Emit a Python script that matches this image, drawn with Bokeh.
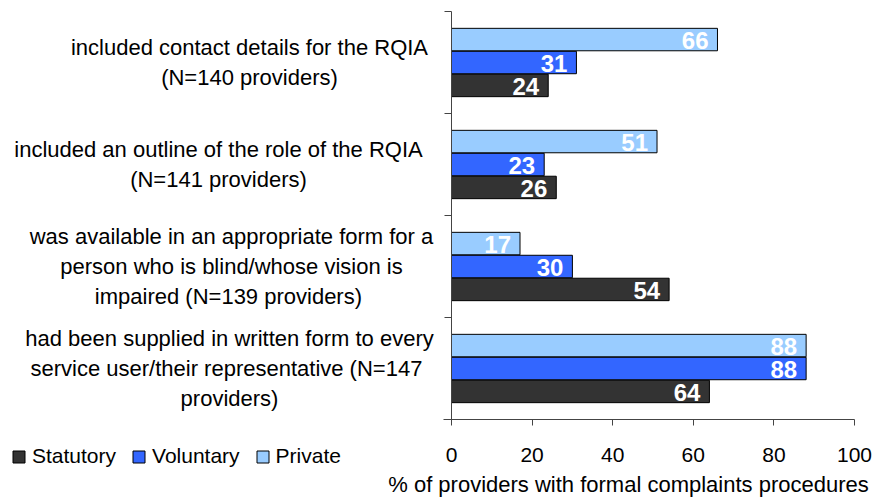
from bokeh.plotting import figure
from bokeh.models import (Range1d, LinearAxis, FixedTicker, ColumnDataSource,
                          Legend, LegendItem, Label)
from bokeh.core.properties import value
from bokeh.embed import file_html
from bokeh.resources import INLINE

# ---------------- data ----------------
categories = [
    "included contact details for the RQIA\n(N=140 providers)",
    "included an outline of the role of the RQIA\n(N=141 providers)",
    "was available in an appropriate form for a\nperson who is blind/whose vision is\nimpaired  (N=139 providers)",
    "had been supplied in written form to every\nservice user/their representative  (N=147\nproviders)",
]
series_names = ["Statutory", "Voluntary", "Private"]
statutory = [24, 26, 54, 64]
voluntary = [31, 23, 30, 88]
private = [66, 51, 17, 88]
x_ticks = [0, 20, 40, 60, 80, 100]
x_title = "% of providers with formal complaints procedures"

# ---------------- layout / style ----------------
FONT = "Liberation Sans"
W, H = 874, 498
PX_X = 4.03          # pixels per x unit
X0 = 451             # canvas px of x = 0
PX_Y = 102.0         # pixels per category
Y0 = 419             # canvas px of bottom of category axis

colors = {"Statutory": "#333333", "Voluntary": "#3366FF", "Private": "#99CCFF"}
offsets = {"Statutory": -0.225, "Voluntary": 0.0, "Private": 0.225}
label_center_px = [249, 218, 231, 229]


def px_to_x(px):
    return (px - X0) / PX_X


def py_to_y(py):
    return (Y0 - py) / PX_Y


p = figure(width=W, height=H, output_backend="svg", toolbar_location=None,
           x_range=Range1d(px_to_x(0), px_to_x(W)),
           y_range=Range1d(py_to_y(H), py_to_y(0)),
           x_axis_location=None, y_axis_location=None,
           min_border=0, outline_line_color=None,
           background_fill_color="white", border_fill_color="white")
p.grid.visible = False

n = len(categories)
centers = [n - 0.5 - i for i in range(n)]

values = {"Statutory": statutory, "Voluntary": voluntary, "Private": private}
renderers = {}
for name in series_names:
    vals = values[name]
    src = ColumnDataSource(dict(
        y=[c + offsets[name] for c in centers],
        right=vals,
        label=[str(v) for v in vals],
    ))
    r = p.hbar(y="y", left=0, right="right", height=0.22, source=src,
               fill_color=colors[name], line_color="black", line_width=1)
    renderers[name] = r
    p.text(x="right", y="y", text="label", source=src, x_offset=-9, y_offset=1,
           text_align="right", text_baseline="middle", text_color="white",
           text_font=value(FONT), text_font_size="24px", text_font_style="bold")

# category labels
lab_src = ColumnDataSource(dict(
    x=[px_to_x(v) for v in label_center_px],
    y=centers,
    text=categories,
))
p.text(x="x", y="y", text="text", source=lab_src, text_align="center",
       text_baseline="middle", text_color="black", text_font=value(FONT),
       text_font_size="22px", text_line_height=1.2)

# axes
xaxis = LinearAxis(fixed_location=0, ticker=FixedTicker(ticks=x_ticks),
                   bounds=(-2, 100))
xaxis.major_tick_out = 6
xaxis.major_tick_in = 0
xaxis.minor_tick_line_color = None
xaxis.axis_line_color = "#444444"
xaxis.major_tick_line_color = "#444444"
xaxis.major_label_text_font = FONT
xaxis.major_label_text_font_size = "21px"
xaxis.major_label_text_color = "black"
xaxis.major_label_standoff = 22
p.add_layout(xaxis, "below")

yaxis = LinearAxis(fixed_location=0, ticker=FixedTicker(ticks=[0, 1, 2, 3, 4]),
                   bounds=(0, n))
yaxis.major_tick_out = 7
yaxis.major_tick_in = 0
yaxis.minor_tick_line_color = None
yaxis.axis_line_color = "#444444"
yaxis.major_tick_line_color = "#444444"
yaxis.major_label_text_color = None
p.add_layout(yaxis, "left")

# x axis title
p.add_layout(Label(x=px_to_x(628), y=py_to_y(484), text=x_title,
                   text_align="center", text_baseline="middle",
                   text_font=FONT, text_font_size="22px", text_color="black"))

# legend
legend = Legend(items=[LegendItem(label=nm, renderers=[renderers[nm]]) for nm in series_names],
                orientation="horizontal", location=(11, 30),
                glyph_width=15, glyph_height=15, label_standoff=6, spacing=15,
                padding=0, margin=0, border_line_color=None,
                background_fill_alpha=0,
                label_text_font=FONT, label_text_font_size="21px",
                label_text_color="black")
p.add_layout(legend)

open("out.html", "w").write(file_html(p, INLINE))
